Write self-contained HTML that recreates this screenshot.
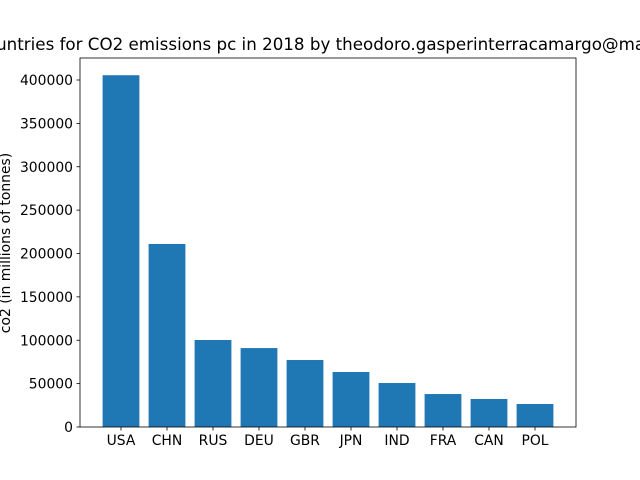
<!DOCTYPE html>
<html><head><meta charset="utf-8"><style>body{margin:0;background:#fff}svg{display:block;font-family:"DejaVu Sans","Liberation Sans",sans-serif}</style></head>
<body>
<svg id="chart" width="640" height="480">
<rect width="640" height="480" fill="#fff"/>
<text x="306" y="50" font-size="16.7" text-anchor="middle">Top 10 countries for CO2 emissions pc in 2018 by theodoro.gasperinterracamargo@mail.com</text>
<text transform="translate(10,243) rotate(-90)" font-size="13.9" text-anchor="middle">co2 (in millions of tonnes)</text>
<g id="bars"></g><g id="axes"></g>
</svg>
<script>
const categories=["USA","CHN","RUS","DEU","GBR","JPN","IND","FRA","CAN","POL"];
const values=[405500,211000,100300,91000,77200,63400,50700,38000,32300,26500];
const yTicks=[0,50000,100000,150000,200000,250000,300000,350000,400000];
const L=80,R=576,T=58,B=427;
const y=v=>B-v*(347/400000);
const xc=i=>121+46*i;
const NS="http://www.w3.org/2000/svg";
const bars=document.getElementById('bars'),ax=document.getElementById('axes');
function mk(tag,at,parent){const e=document.createElementNS(NS,tag);for(const k in at)e.setAttribute(k,at[k]);parent.appendChild(e);return e;}
values.forEach((v,i)=>{
 const r=mk('rect',{x:xc(i)-18.4,y:y(v),width:36.8,height:B-y(v),fill:'#1f77b4'},bars);
 
 
 mk('line',{x1:xc(i),x2:xc(i),y1:B,y2:B+3.5,stroke:'#000','stroke-width':0.8},ax);
 const t=mk('text',{x:xc(i),y:B+18,'font-size':13.9,'text-anchor':'middle'},ax);t.textContent=categories[i];
 
 
});
yTicks.forEach(v=>{
 mk('line',{x1:L-3.5,x2:L,y1:y(v),y2:y(v),stroke:'#000','stroke-width':0.8},ax);
 const t=mk('text',{x:L-7,y:y(v)+5,'font-size':13.9,'text-anchor':'end'},ax);t.textContent=v;
 
 
});
const f=mk('rect',{x:L,y:T,width:R-L,height:B-T,fill:'none',stroke:'#000','stroke-width':0.8},ax);


</script>
</body></html>
